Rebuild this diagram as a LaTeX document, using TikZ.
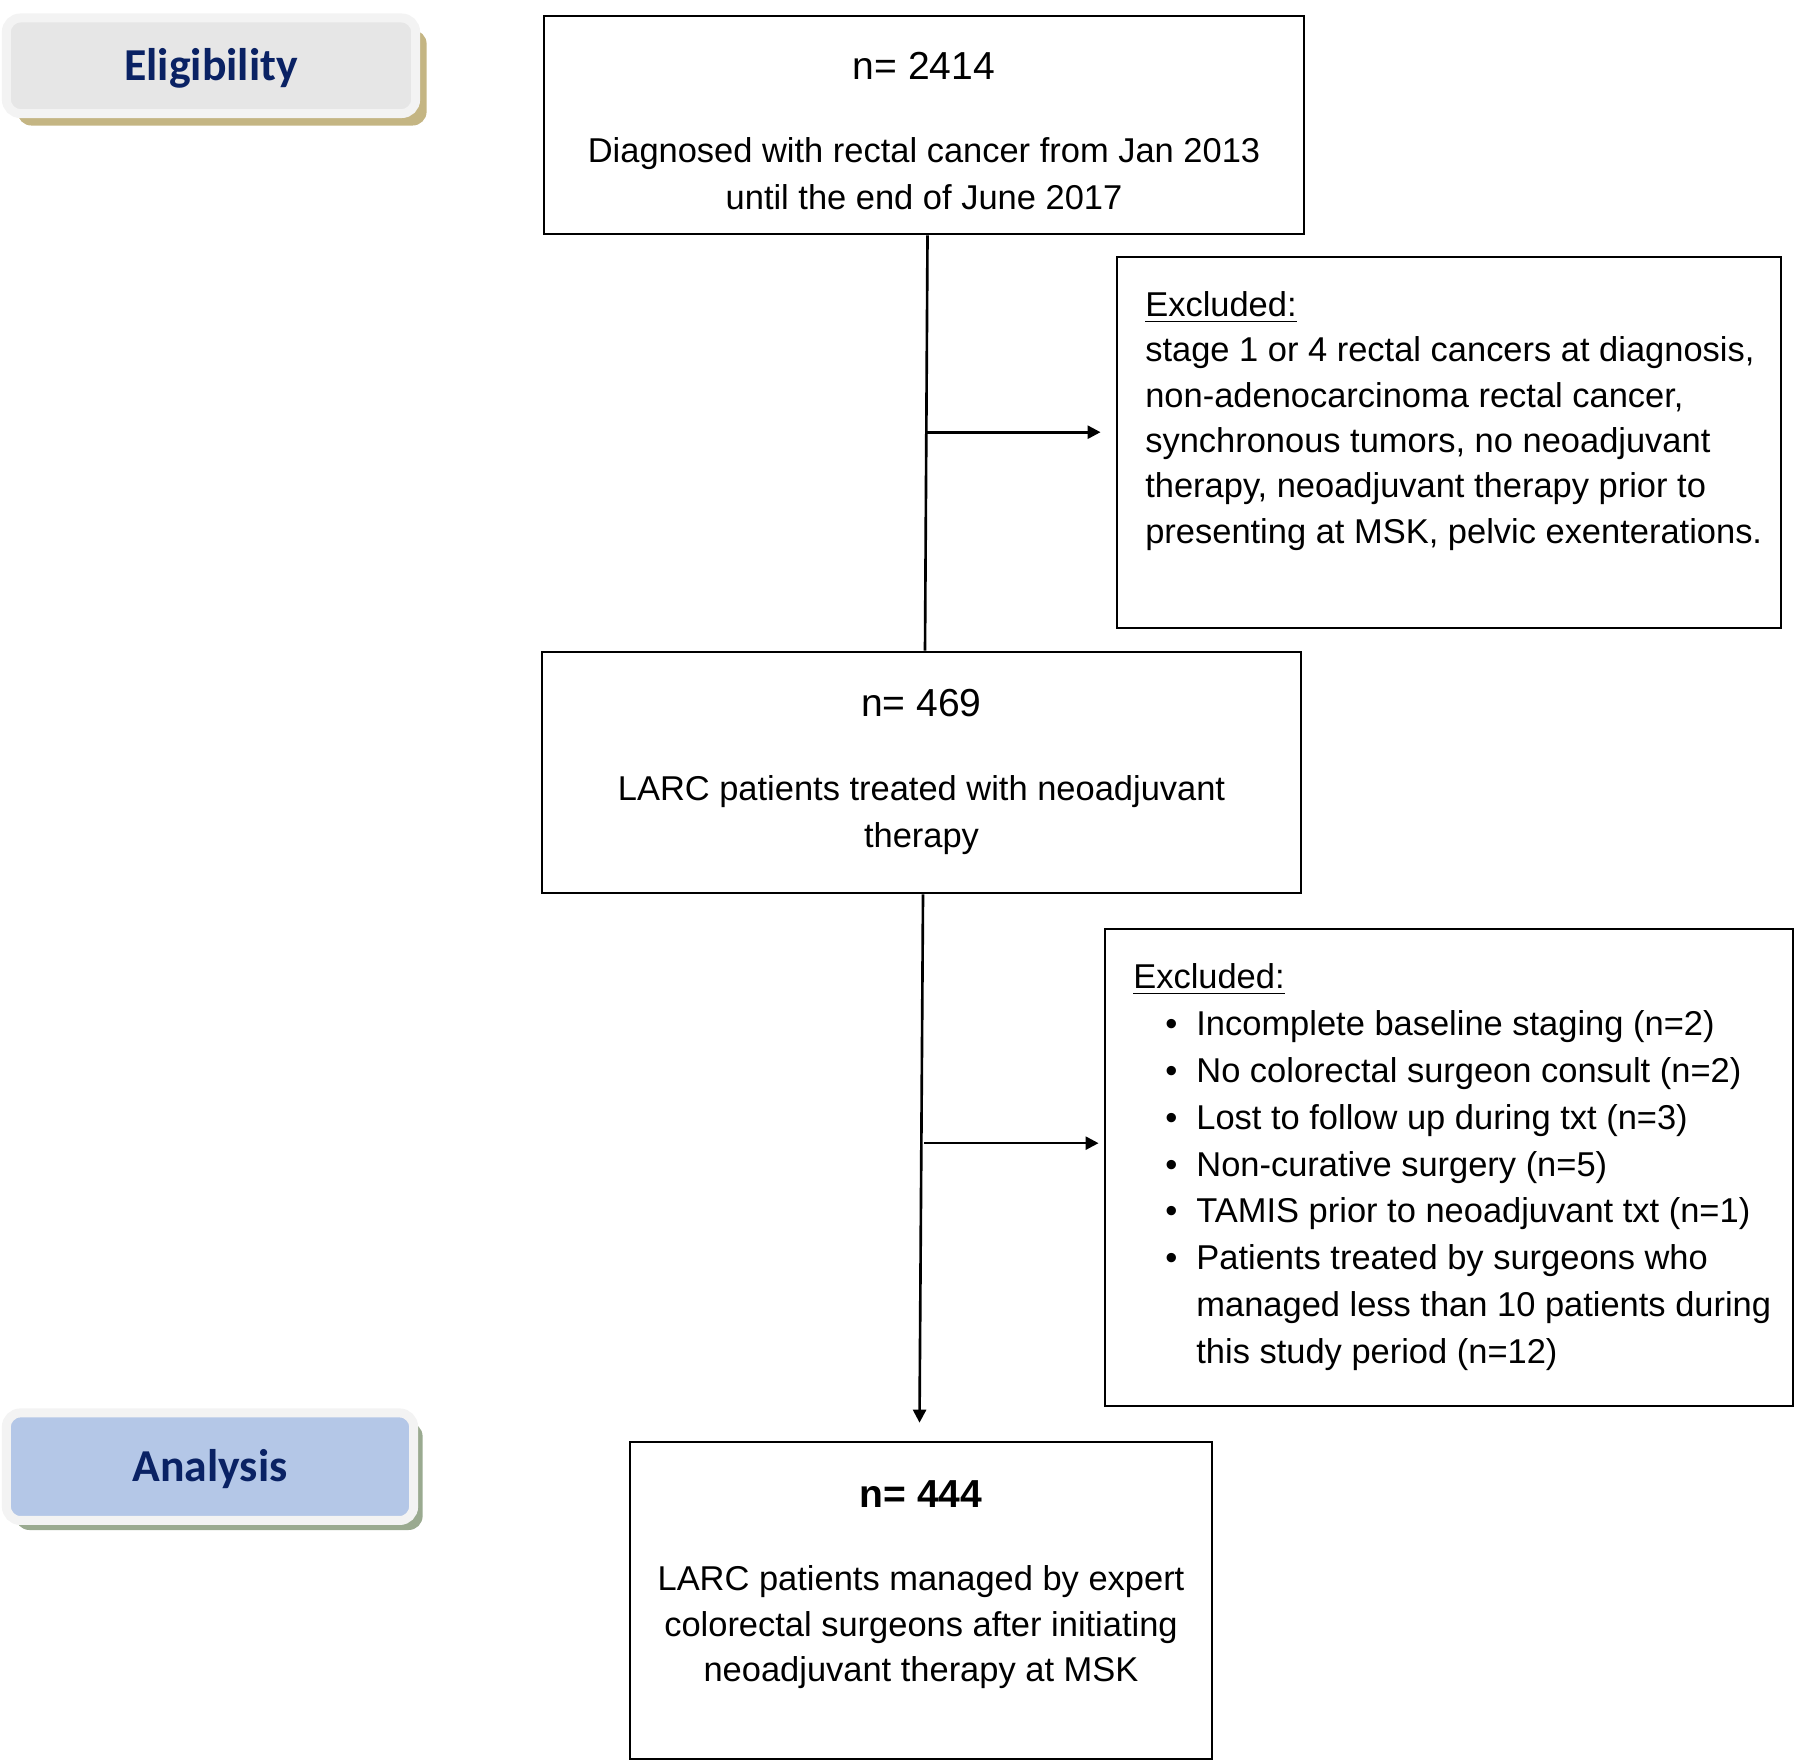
\documentclass[tikz,border=0pt]{standalone}
\usepackage{fontspec}
\setmainfont{Liberation Sans}
\newfontfamily\stagefont{Carlito}
\usepackage{tikz}
\usetikzlibrary{arrows.meta, positioning, calc, shadows}
\definecolor{stagenavy}{RGB}{10,34,100}
\definecolor{stagerim}{RGB}{243,243,243}
\definecolor{eligfill}{RGB}{230,230,230}
\definecolor{eligshade}{RGB}{196,181,131}
\definecolor{analfill}{RGB}{180,199,231}
\definecolor{analshade}{RGB}{154,170,144}
\newcommand{\bodysize}{\fontsize{9.8}{12.9}\selectfont}
\newcommand{\headsize}{\fontsize{11.1}{13}\selectfont}
\tikzset{
    stagebox/.style={draw=stagerim, line width=0.09cm, rounded corners=0.14cm, fill=#1,
        text height=0.42cm, text depth=0.12cm,
        font=\stagefont\bfseries\fontsize{13}{15}\selectfont, text=stagenavy},
    stagebox/.default=eligfill
}

\begin{document}
\begin{tikzpicture}[
    x=0.01cm, y=-0.01cm,
    flowbox/.style={draw, line width=0.7pt, inner sep=0pt},
    flowtext/.style={inner sep=0pt, font=\bodysize},
    flowline/.style={line width=0.75pt},
    flowarrow/.style={line width=0.75pt, -{Triangle[length=0.13cm, width=0.13cm]}}
]
\useasboundingbox (0,0) rectangle (1800,1761);

% Stage labels
\node[stagebox=eligfill, minimum width=4.09cm, minimum height=0.955cm,
      drop shadow={shadow xshift=0.11cm, shadow yshift=-0.12cm, fill=eligshade, opacity=1}]
      (elig) at (211,65.75) {Eligibility};
\node[stagebox=analfill, minimum width=4.07cm, minimum height=1.075cm,
      drop shadow={shadow xshift=0.09cm, shadow yshift=-0.095cm, fill=analshade, opacity=1}]
      (anal) at (210,1466.7) {Analysis};

% Main boxes
\node[flowbox, minimum width=7.60cm, minimum height=2.18cm] (box1) at (924,125) {};
\node[flowbox, minimum width=7.59cm, minimum height=2.41cm] (box2) at (921.5,772.5) {};
\node[flowbox, minimum width=5.82cm, minimum height=3.17cm] (box3) at (921,1600.5) {};

% Exclusion boxes
\node[flowbox, minimum width=6.64cm, minimum height=3.71cm] (excl1) at (1449,442.5) {};
\node[flowbox, minimum width=6.88cm, minimum height=4.77cm] (excl2) at (1449,1167.5) {};

% Box texts
\node[flowtext, align=center, anchor=north, below=0.37cm of box1.north] (box1txt)
    {{\headsize n= 2414}\\[0.37cm]
     Diagnosed with rectal cancer from Jan 2013\\[0.02cm]
     until the end of June 2017};
\node[flowtext, align=center, anchor=north, below=0.38cm of box2.north] (box2txt)
    {{\headsize n= 469}\\[0.38cm]
     LARC patients treated with neoadjuvant\\[0.02cm]
     therapy};
\node[flowtext, align=center, anchor=north, below=0.39cm of box3.north] (box3txt)
    {{\headsize\bfseries n= 444}\\[0.38cm]
     LARC patients managed by expert\\
     colorectal surgeons after initiating\\
     neoadjuvant therapy at MSK};

\node[flowtext, align=left, anchor=north west] (excl1txt)
    at ([xshift=0.29cm, yshift=-0.35cm]excl1.north west)
    {\underline{Excluded:}\\
     stage 1 or 4 rectal cancers at diagnosis,\\
     non-adenocarcinoma rectal cancer,\\
     synchronous tumors, no neoadjuvant\\
     therapy, neoadjuvant therapy prior to\\
     presenting at MSK, pelvic exenterations.};
\node[flowtext, align=left, anchor=north west] (excl2txt)
    at ([xshift=0.29cm, yshift=-0.35cm]excl2.north west)
    {\underline{Excluded:}\\[0.04cm]
     \renewcommand{\arraystretch}{1.03}%
     \begin{tabular}{@{\hspace{0.32cm}}l@{\hspace{0.19cm}}l@{}}
     \textbullet & Incomplete baseline staging (n=2)\\
     \textbullet & No colorectal surgeon consult (n=2)\\
     \textbullet & Lost to follow up during txt (n=3)\\
     \textbullet & Non-curative surgery (n=5)\\
     \textbullet & TAMIS prior to neoadjuvant txt (n=1)\\
     \textbullet & Patients treated by surgeons who\\
                 & managed less than 10 patients during\\
                 & this study period (n=12)
     \end{tabular}};

% Connectors
\draw[flowline] ([xshift=0.035cm]box1.south) -- ([xshift=0.035cm]box2.north);
\coordinate (split1) at ($([xshift=0.035cm]box1.south)!0.474!([xshift=0.035cm]box2.north)$);
\draw[flowarrow] (split1) -- ([xshift=-0.15cm]split1 -| excl1.west);

\draw[flowarrow] ([xshift=0.015cm]box2.south) -- ([xshift=-0.015cm, yshift=0.18cm]box3.north);
\coordinate (split2) at ($([xshift=0.015cm]box2.south)!0.471!([xshift=-0.015cm, yshift=0.18cm]box3.north)$);
\draw[flowarrow] ([xshift=0.03cm]split2) -- ([xshift=-0.05cm]split2 -| excl2.west);

\end{tikzpicture}
\end{document}
